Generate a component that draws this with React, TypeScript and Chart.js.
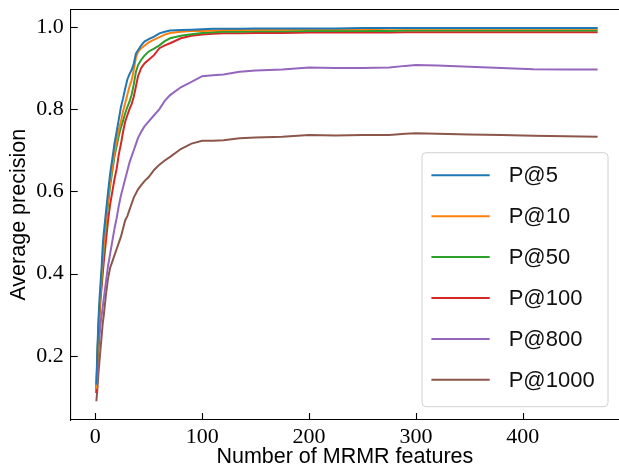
import React, { useEffect, useRef } from 'react';
import { Chart, registerables } from 'chart.js';

Chart.register(...registerables);

// Number of MRMR features (x values)
const featureCounts = [1, 2, 3, 4, 5, 6, 7, 8, 10, 12, 14, 16, 18, 20, 22, 24, 26, 28, 30, 32, 34, 36, 38, 40, 43, 46, 50, 55, 60, 65, 70, 80, 90, 100, 110, 120, 135, 150, 175, 200, 225, 250, 275, 290, 300, 320, 350, 380, 410, 440, 470];

const p5 = [0.13, 0.22, 0.29, 0.34, 0.38, 0.42, 0.47, 0.5, 0.55, 0.6, 0.645, 0.68, 0.717, 0.745, 0.775, 0.805, 0.826, 0.85, 0.872, 0.885, 0.895, 0.91, 0.935, 0.943, 0.955, 0.964, 0.97, 0.976, 0.984, 0.988, 0.991, 0.992, 0.993, 0.994, 0.995, 0.995, 0.995, 0.996, 0.996, 0.996, 0.996, 0.997, 0.997, 0.997, 0.997, 0.997, 0.997, 0.997, 0.997, 0.997, 0.997];
const p10 = [0.12, 0.2, 0.27, 0.32, 0.36, 0.4, 0.44, 0.47, 0.53, 0.58, 0.625, 0.66, 0.695, 0.725, 0.75, 0.77, 0.795, 0.815, 0.835, 0.855, 0.87, 0.895, 0.925, 0.939, 0.948, 0.954, 0.962, 0.969, 0.975, 0.981, 0.985, 0.988, 0.99, 0.99, 0.991, 0.992, 0.992, 0.993, 0.993, 0.994, 0.994, 0.994, 0.995, 0.995, 0.995, 0.995, 0.995, 0.995, 0.995, 0.995, 0.995];
const p50 = [0.12, 0.2, 0.27, 0.32, 0.355, 0.39, 0.43, 0.46, 0.52, 0.57, 0.615, 0.65, 0.685, 0.71, 0.735, 0.755, 0.772, 0.79, 0.805, 0.818, 0.835, 0.86, 0.89, 0.907, 0.92, 0.93, 0.94, 0.947, 0.955, 0.965, 0.972, 0.978, 0.982, 0.985, 0.987, 0.988, 0.988, 0.989, 0.989, 0.99, 0.99, 0.99, 0.99, 0.991, 0.991, 0.991, 0.991, 0.991, 0.991, 0.991, 0.991];
const p100 = [0.11, 0.18, 0.25, 0.3, 0.34, 0.37, 0.4, 0.43, 0.48, 0.53, 0.57, 0.6, 0.63, 0.655, 0.69, 0.715, 0.745, 0.77, 0.785, 0.8, 0.812, 0.83, 0.855, 0.88, 0.9, 0.911, 0.92, 0.931, 0.948, 0.955, 0.96, 0.972, 0.978, 0.981, 0.983, 0.984, 0.984, 0.985, 0.985, 0.986, 0.986, 0.986, 0.986, 0.987, 0.987, 0.987, 0.987, 0.987, 0.987, 0.987, 0.987];
const p800 = [0.11, 0.16, 0.21, 0.25, 0.28, 0.3, 0.32, 0.34, 0.38, 0.42, 0.45, 0.48, 0.51, 0.535, 0.565, 0.59, 0.61, 0.63, 0.65, 0.67, 0.685, 0.7, 0.715, 0.73, 0.745, 0.758, 0.77, 0.785, 0.8, 0.82, 0.834, 0.853, 0.866, 0.88, 0.882, 0.884, 0.891, 0.894, 0.896, 0.901, 0.9, 0.9, 0.901, 0.905, 0.907, 0.906, 0.903, 0.9, 0.897, 0.896, 0.896];
const p1000 = [0.09, 0.12, 0.16, 0.19, 0.22, 0.25, 0.28, 0.3, 0.35, 0.39, 0.415, 0.43, 0.445, 0.46, 0.475, 0.49, 0.51, 0.53, 0.54, 0.555, 0.57, 0.585, 0.595, 0.605, 0.615, 0.625, 0.635, 0.652, 0.665, 0.675, 0.684, 0.703, 0.716, 0.723, 0.723, 0.724, 0.729, 0.731, 0.733, 0.737, 0.736, 0.737, 0.737, 0.74, 0.741, 0.74, 0.738, 0.737, 0.735, 0.734, 0.733];

const seriesLabels = ['P@5', 'P@10', 'P@50', 'P@100', 'P@800', 'P@1000'];
const seriesValues = [p5, p10, p50, p100, p800, p1000];
const seriesColors = ['#1f77b4', '#ff7f0e', '#2ca02c', '#d62728', '#9467bd', '#8c564b'];

const xTickValues = [0, 100, 200, 300, 400];
const yTickValues = [0.2, 0.4, 0.6, 0.8, 1.0];

const xTitle = 'Number of MRMR features';
const yTitle = 'Average precision';

const SERIF = '"Liberation Serif", "DejaVu Serif", serif';
const SANS = '"Liberation Sans", "DejaVu Sans", sans-serif';

const decorPlugin = {
  id: 'decor',
  afterDraw(chart: any) {
    const { ctx, chartArea, scales } = chart;
    ctx.save();
    ctx.strokeStyle = '#000';
    ctx.lineWidth = 1.1;
    // top spine
    ctx.beginPath();
    ctx.moveTo(chartArea.left, chartArea.top);
    ctx.lineTo(chartArea.right, chartArea.top);
    ctx.stroke();
    // inward ticks
    const tl = 7;
    scales.x.ticks.forEach((t: any) => {
      const px = Math.round(scales.x.getPixelForValue(t.value)) + 0.5;
      ctx.beginPath();
      ctx.moveTo(px, chartArea.bottom);
      ctx.lineTo(px, chartArea.bottom - tl);
      ctx.stroke();
    });
    scales.y.ticks.forEach((t: any) => {
      const py = Math.round(scales.y.getPixelForValue(t.value)) + 0.5;
      ctx.beginPath();
      ctx.moveTo(chartArea.left, py);
      ctx.lineTo(chartArea.left + tl, py);
      ctx.stroke();
    });
    // legend
    const boxW = 186;
    const boxH = 254;
    const boxRight = chartArea.right - 11;
    const boxBottom = chartArea.bottom - 13.3;
    const bx = boxRight - boxW;
    const by = boxBottom - boxH;
    const r = 4;
    ctx.beginPath();
    ctx.moveTo(bx + r, by);
    ctx.lineTo(bx + boxW - r, by);
    ctx.arcTo(bx + boxW, by, bx + boxW, by + r, r);
    ctx.lineTo(bx + boxW, by + boxH - r);
    ctx.arcTo(bx + boxW, by + boxH, bx + boxW - r, by + boxH, r);
    ctx.lineTo(bx + r, by + boxH);
    ctx.arcTo(bx, by + boxH, bx, by + boxH - r, r);
    ctx.lineTo(bx, by + r);
    ctx.arcTo(bx, by, bx + r, by, r);
    ctx.closePath();
    ctx.fillStyle = 'rgba(255,255,255,0.85)';
    ctx.fill();
    ctx.strokeStyle = '#d0d0d0';
    ctx.lineWidth = 1;
    ctx.stroke();
    ctx.font = '22px ' + SANS;
    ctx.textBaseline = 'middle';
    ctx.textAlign = 'left';
    chart.data.datasets.forEach((ds: any, i: number) => {
      const cy = by + 22.6 + i * 40.9;
      ctx.strokeStyle = ds.borderColor;
      ctx.lineWidth = 2;
      ctx.beginPath();
      ctx.moveTo(bx + 9.4, cy);
      ctx.lineTo(bx + 67.7, cy);
      ctx.stroke();
      ctx.fillStyle = '#111';
      ctx.fillText(ds.label, bx + 86.7, cy + 1);
    });
    ctx.restore();
  },
};

export default function App() {
  const ref = useRef<HTMLCanvasElement | null>(null);
  useEffect(() => {
    if (!ref.current) return;
    const datasets = seriesLabels.map((label, i) => ({
      label,
      data: featureCounts.map((x, j) => ({ x, y: seriesValues[i][j] })),
      borderColor: seriesColors[i],
      backgroundColor: seriesColors[i],
      borderWidth: 2,
      pointRadius: 0,
      tension: 0,
      fill: false,
    }));
    const chart = new Chart(ref.current, {
      type: 'line',
      data: { datasets },
      options: {
        animation: false,
        responsive: false,
        devicePixelRatio: 1,
        layout: { padding: { top: 9.5, left: 0, right: 0, bottom: 0 } },
        plugins: { legend: { display: false }, tooltip: { enabled: false } },
        scales: {
          x: {
            type: 'linear',
            min: -23,
            max: 490,
            grid: { display: false, drawTicks: false },
            border: { display: true, color: '#000', width: 1.1 },
            afterBuildTicks: (s: any) => { s.ticks = xTickValues.map((v) => ({ value: v })); },
            afterFit: (s: any) => { s.height = 54; s.paddingLeft = 0; s.paddingRight = 0; },
            ticks: { color: '#000', font: { family: SERIF, size: 22 }, padding: 4, maxRotation: 0, callback: (v: any) => String(v) },
            title: { display: true, text: xTitle, color: '#000', font: { family: SANS, size: 21.5 }, padding: { top: 0, bottom: 4 } },
          },
          y: {
            type: 'linear',
            min: 0.0445,
            max: 1.042,
            grid: { display: false, drawTicks: false },
            border: { display: true, color: '#000', width: 1.1 },
            afterBuildTicks: (s: any) => { s.ticks = yTickValues.map((v) => ({ value: v })); },
            afterFit: (s: any) => { s.width = 70.7; s.paddingTop = 0; s.paddingBottom = 0; },
            ticks: { color: '#000', font: { family: SERIF, size: 22 }, padding: 7, callback: (v: any) => Number(v).toFixed(1) },
            title: { display: true, text: yTitle, color: '#000', font: { family: SANS, size: 21.5 }, padding: { top: 6, bottom: 0 } },
          },
        },
      },
      plugins: [decorPlugin],
    });
    return () => chart.destroy();
  }, []);
  return (
    <div style={{ position: 'absolute', left: 0, top: 0, width: 619, height: 474, background: '#fff' }}>
      <canvas ref={ref} width={619} height={474} style={{ display: 'block' }} />
    </div>
  );
}
